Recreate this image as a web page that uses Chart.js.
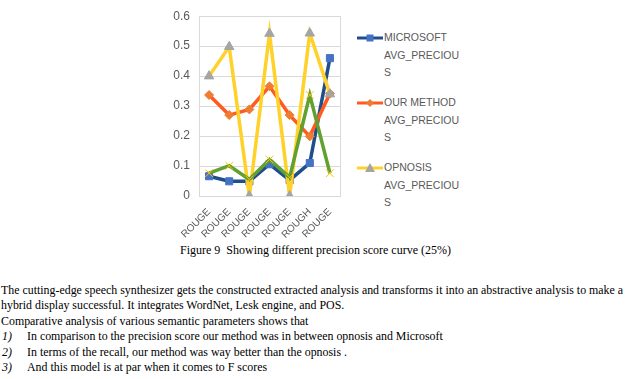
<!DOCTYPE html>
<html>
<head>
<meta charset="utf-8">
<script src="https://cdn.jsdelivr.net/npm/chart.js@4"></script>
<style>
  body { margin: 0; width: 631px; height: 379px; background: #fff; position: relative; overflow: hidden; }
  #wrap { position: absolute; left: 150px; top: 0; width: 200px; height: 240px; }
  #legend { position: absolute; left: 357px; top: 29px; width: 110px;
            font-family: "Liberation Sans", sans-serif; font-size: 10.5px; color: #595959; line-height: 17.5px; }
  .item { position: relative; padding-left: 27px; margin-bottom: 12.5px; }
  .item svg { position: absolute; left: 0; top: 3px; }
  #caption { position: absolute; left: 0; top: 243px; width: 631px; text-align: center;
             font-family: "Liberation Serif", "Times New Roman", serif; font-size: 12px; color: #000; }
  #body { position: absolute; left: 1px; top: 283px; width: 630px; line-height: 15.4px;
          font-family: "Liberation Serif", "Times New Roman", serif; font-size: 11.9px; color: #000; }
  .li { position: relative; padding-left: 26px; }
  .li i { position: absolute; left: 1px; }
</style>
</head>
<body>
<div id="wrap"><canvas id="chart"></canvas></div>
<div id="legend">
  <div class="item"><svg width="27" height="12"><line x1="0" y1="6" x2="26" y2="6" stroke="#1F4E8C" stroke-width="3"/><rect x="9.5" y="2.5" width="7" height="7" fill="#4472C4"/></svg>MICROSOFT<br>AVG_PRECIOU<br>S</div>
  <div class="item"><svg width="27" height="12"><line x1="0" y1="6" x2="26" y2="6" stroke="#FF5A1F" stroke-width="3"/><polygon points="13,2 17,6 13,10 9,6" fill="#ED7D31"/></svg>OUR METHOD<br>AVG_PRECIOU<br>S</div>
  <div class="item"><svg width="27" height="12"><line x1="0" y1="6" x2="26" y2="6" stroke="#FFD22B" stroke-width="3"/><polygon points="13,1 18,10 8,10" fill="#A5A5A5"/></svg>OPNOSIS<br>AVG_PRECIOU<br>S</div>
</div>
<div id="caption">Figure 9&nbsp; Showing different precision score curve (25%)</div>
<div id="body">
  <div>The cutting-edge speech synthesizer gets the constructed extracted analysis and transforms it into an abstractive analysis to make a hybrid display successful. It integrates WordNet, Lesk engine, and POS.</div>
  <div>Comparative analysis of various semantic parameters shows that</div>
  <div class="li"><i>1)</i>In comparison to the precision score our method was in between opnosis and Microsoft</div>
  <div class="li"><i>2)</i>In terms of the recall, our method was way better than the opnosis .</div>
  <div class="li"><i>3)</i>And this model is at par when it comes to F scores</div>
</div>
<script>
// Data
const categories = ["ROUGE", "ROUGE", "ROUGE", "ROUGE", "ROUGE", "ROUGH", "ROUGE"];
const microsoft = [0.066, 0.049, 0.049, 0.106, 0.053, 0.11, 0.46];
const ourMethod = [0.337, 0.27, 0.289, 0.366, 0.27, 0.199, 0.342];
const opnosis = [0.4, 0.498, 0, 0.542, 0, 0.543, 0.34];
const fourth = [0.076, 0.101, 0.055, 0.122, 0.062, 0.337, 0.076];
const yTicks = [0, 0.1, 0.2, 0.3, 0.4, 0.5, 0.6];

// plot area border (Excel style box)
const boxPlugin = {
    id: "box",
    beforeDatasetsDraw(chart) {
        const a = chart.chartArea;
        const ctx = chart.ctx;
        ctx.save();
        ctx.strokeStyle = "#d9d9d9";
        ctx.lineWidth = 1;
        ctx.strokeRect(Math.round(a.left) + 0.5, Math.round(a.top) + 0.5, Math.round(a.right - a.left), Math.round(a.bottom - a.top));
        ctx.restore();
    }
};

function series(label, values, line, style, fill, stroke, radius, order) {
    return {
        label: label,
        data: values,
        borderColor: line,
        borderWidth: 3.5,
        pointStyle: style,
        pointRadius: radius,
        pointBackgroundColor: fill,
        pointBorderColor: stroke,
        pointBorderWidth: 1,
        tension: 0,
        order: order
    };
}

const ctx = document.getElementById("chart").getContext("2d");
new Chart(ctx, {
    type: "line",
    data: {
        labels: categories,
        datasets: [
            series("MICROSOFT AVG_PRECIOUS", microsoft, "#1F4E8C", "rect", "#4472C4", "#4472C4", 5, 4),
            series("OUR METHOD AVG_PRECIOUS", ourMethod, "#FF5A1F", "rectRot", "#ED7D31", "#ED7D31", 4.5, 3),
            series("OPNOSIS AVG_PRECIOUS", opnosis, "#FFD22B", "triangle", "#A5A5A5", "#A5A5A5", 5.5, 2),
            series("FOURTH", fourth, "#62A032", "crossRot", "#FFC000", "#FFC000", 5.5, 1)
        ]
    },
    options: {
        responsive: true,
        maintainAspectRatio: false,
        animation: false,
        layout: { padding: { left: 9, right: 10, top: 10, bottom: 0 } },
        plugins: {
            legend: { display: false },
            tooltip: { enabled: false }
        },
        scales: {
            x: {
                offset: true,
                grid: { display: false, drawTicks: false },
                border: { color: "#d9d9d9" },
                ticks: {
                    minRotation: 45, maxRotation: 45, autoSkip: false, padding: 10,
                    color: "#595959", font: { family: "Liberation Sans", size: 10 }
                },
                afterFit: s => { s.height = 44; }
            },
            y: {
                min: 0, max: 0.6,
                afterBuildTicks: s => { s.ticks = yTicks.map(v => ({ value: v })); },
                grid: { color: "#d9d9d9", drawTicks: false },
                border: { display: false },
                ticks: {
                    padding: 9,
                    color: "#595959", font: { family: "Liberation Sans", size: 12 },
                    callback: v => String(v)
                },
                afterFit: s => { s.width = 40; }
            }
        }
    },
    plugins: [boxPlugin]
});
</script>
</body>
</html>
